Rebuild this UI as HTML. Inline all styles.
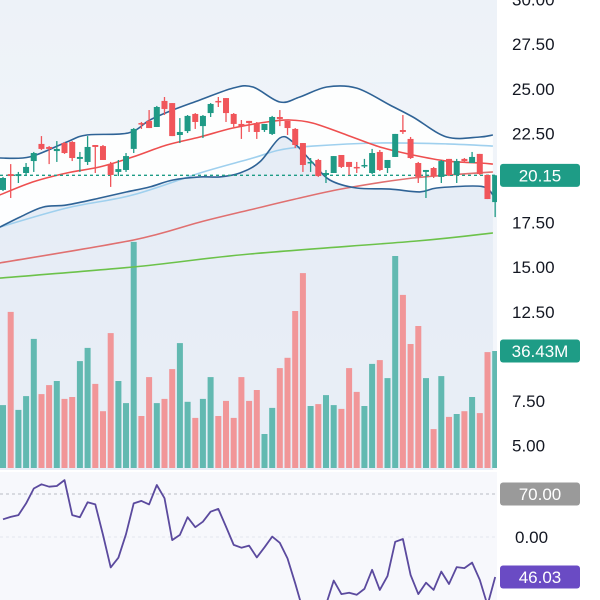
<!DOCTYPE html>
<html><head><meta charset="utf-8"><style>
html,body{margin:0;padding:0;background:#fff;}
svg{display:block;font-family:"Liberation Sans",sans-serif;}
</style></head><body>
<svg id="chart" width="600" height="600" viewBox="0 0 600 600" xmlns="http://www.w3.org/2000/svg">
<defs>
<linearGradient id="bg" x1="0" y1="0" x2="0" y2="1"><stop offset="0" stop-color="#edf2f8"/><stop offset="1" stop-color="#f6f8fc"/></linearGradient>
</defs>
<rect x="0" y="0" width="497" height="470" fill="url(#bg)"/>
<rect x="0" y="472" width="497" height="128" fill="#f7f8fc"/>
<g id="layer"></g>
</svg>
<script>
// ---- data ----
const opens  = [19.33,20.22,20.11,20.28,20.95,21.91,21.74,21.51,21.96,22.02,21.07,20.90,21.85,21.79,20.78,20.34,20.45,21.63,23.08,23.20,22.86,24.32,24.20,22.41,22.63,23.59,22.91,23.64,24.32,24.48,23.59,23.03,23.20,23.08,22.69,22.47,23.42,23.20,22.75,21.96,20.84,21.01,20.17,20.28,21.29,20.90,20.62,20.67,20.28,21.46,20.56,21.18,22.69,22.19,20.84,20.34,20.56,20.06,21.07,20.17,21.07,20.84,21.35,20.17,18.65];
const highs  = [20.06,20.78,20.34,20.84,21.46,22.35,21.79,22.07,22.02,22.07,21.46,22.35,21.85,21.85,20.90,21.01,21.40,22.80,23.14,23.81,24.04,24.54,24.20,23.36,23.53,23.64,23.53,24.20,24.54,24.48,23.64,23.25,23.20,23.14,23.03,23.48,23.81,23.20,22.80,21.96,21.12,21.07,20.45,21.23,21.29,20.90,20.90,21.07,21.63,21.57,21.01,22.47,23.53,22.30,20.90,20.45,20.62,21.01,21.07,21.07,21.12,21.46,21.35,20.17,20.15];
const lows   = [19.27,18.88,19.72,20.11,20.34,21.57,20.78,20.90,21.35,20.95,20.34,20.73,20.28,21.01,19.50,20.11,20.34,21.40,22.75,22.80,22.86,23.53,22.35,21.96,22.52,22.75,22.24,23.42,23.98,23.14,22.86,22.19,22.58,22.19,22.58,22.41,22.91,22.41,21.68,20.34,20.34,20.06,19.72,20.28,20.56,20.17,20.28,20.56,20.22,20.39,20.28,21.18,22.47,21.07,19.72,18.88,20.00,19.72,20.11,19.72,20.84,20.84,20.17,18.82,17.81];
const closes = [20.00,20.11,20.22,20.62,21.40,21.63,21.63,21.63,21.40,21.12,21.18,21.74,21.74,21.01,20.17,20.50,21.23,22.75,23.03,22.80,23.98,23.87,22.35,22.58,23.48,23.14,23.48,24.15,24.26,23.64,23.03,22.91,23.08,22.58,23.03,23.42,23.31,22.80,21.85,20.73,20.90,20.11,20.28,21.23,20.62,20.62,20.56,20.73,21.40,20.45,21.01,22.47,22.58,21.12,20.06,20.45,20.11,20.95,20.17,20.95,20.95,21.18,20.22,18.82,20.15];
const volumes = [19.6,48.6,18.1,22.4,40.2,23.0,25.8,27.1,21.5,22.1,33.3,37.4,26.2,17.7,42.0,27.1,20.2,70.4,16.2,28.3,20.2,21.5,30.8,38.9,20.6,15.6,21.5,28.3,16.2,20.9,15.6,28.3,20.9,24.3,10.6,18.7,31.1,34.3,48.9,60.7,19.3,19.9,22.7,19.6,18.4,31.1,23.7,19.3,32.4,33.6,28.0,66.0,53.9,38.6,44.2,28.0,12.1,28.6,15.9,16.8,17.7,22.1,17.1,36.1,36.43];
const rsi = [62.7,63.4,63.9,67.3,71.6,72.8,72.1,72.3,74.0,63.9,63.3,67.6,67.0,58.2,48.8,51.6,58.4,67.3,68.0,67.0,72.6,68.8,56.7,58.2,63.3,60.4,62.0,64.9,65.7,60.6,55.3,54.5,55.1,51.7,54.6,57.7,55.9,51.4,44.2,36.5,32.2,33.6,38.0,45.0,41.1,41.5,40.9,42.6,48.1,42.3,46.3,56.2,57.0,46.6,41.1,44.4,42.3,47.6,44.0,48.9,48.6,50.2,45.2,37.9,46.03];
const bbUpperIdx = [-0.4,3.5,8.3,10.9,16.3,19.1,22.1,25.6,29.9,32.5,36.0,38.6,42.1,46.0,50.3,53.3,57.7,62.0,63.7];
const bbUpper    = [21.12,21.18,22.02,22.41,22.52,23.25,23.81,24.37,25.04,25.10,24.26,24.54,25.10,25.04,24.09,23.42,22.30,22.30,22.41];
const bbLowerIdx = [-0.4,2.2,5.2,8.3,12.6,16.1,19.1,22.1,25.6,28.2,30.8,33.4,36.0,37.7,40.3,42.5,46.0,50.3,54.2,56.4,61.1,62.9,63.7];
const bbLower    = [17.25,17.81,18.37,18.49,18.88,19.22,19.50,19.89,20.06,20.06,20.28,20.90,22.24,22.02,20.84,19.89,19.44,19.38,19.22,19.44,19.55,19.44,19.05];
const sma20Idx = [-0.4,3.9,8.3,12.6,16.9,21.3,25.6,29.9,34.3,37.3,40.3,44.7,49.0,53.3,57.7,62.0,63.7];
const sma20    = [19.05,19.78,20.28,20.62,21.18,21.85,22.30,22.80,23.14,23.25,23.08,22.41,21.74,21.29,20.95,20.84,20.78];
const sma50Idx = [-0.4,8.3,16.9,25.6,32.5,36.0,40.3,49.0,57.7,63.7];
const sma50    = [17.25,18.32,19.05,20.28,21.12,21.57,21.79,21.96,21.91,21.79];
const sma100Idx = [-0.4,16.9,25.6,32.1,38.6,44.7,53.3,63.7];
const sma100    = [15.24,16.52,17.53,18.21,18.88,19.44,20.00,20.34];
const sma200Idx = [-0.4,16.9,32.1,53.8,63.7];
const sma200    = [14.39,15.01,15.74,16.47,16.92];
const priceTicks = [30,27.5,25,22.5,17.5,15,12.5,10,7.5,5];
const lastPrice = 20.15;
const lastVolume = 36.43;
const rsiLevels = [70];
const lastRsi = 46.03;

// ---- scales ----
const X = i => 3 + i * 7.69;
const YP = p => 178 - (p - 20) * 17.84;
const YV = v => 468 - v / 36.43 * 117;
const YR = v => 494 + (70 - v) * 3.463;

const NS = "http://www.w3.org/2000/svg";
const layer = document.getElementById('layer');
function mk(tag, attrs, parent) {
  const e = document.createElementNS(NS, tag);
  for (const k in attrs) e.setAttribute(k, attrs[k]);
  (parent || layer).appendChild(e);
  return e;
}
function xy(idx, vals, yf) { return idx.map((i, k) => [X(i), yf(vals[k])]); }
function smooth(p, move) {
  let d = (move ? 'M' : 'L') + p[0][0].toFixed(1) + ',' + p[0][1].toFixed(1);
  for (let k = 0; k < p.length - 1; k++) {
    const p0 = p[Math.max(0, k - 1)], p1 = p[k], p2 = p[k + 1], p3 = p[Math.min(p.length - 1, k + 2)];
    const c1x = p1[0] + (p2[0] - p0[0]) / 6, c1y = p1[1] + (p2[1] - p0[1]) / 6;
    const c2x = p2[0] - (p3[0] - p1[0]) / 6, c2y = p2[1] - (p3[1] - p1[1]) / 6;
    d += ' C' + c1x.toFixed(1) + ',' + c1y.toFixed(1) + ' ' + c2x.toFixed(1) + ',' + c2y.toFixed(1) + ' ' + p2[0].toFixed(1) + ',' + p2[1].toFixed(1);
  }
  return d;
}

// band fills
const up = xy(bbUpperIdx, bbUpper, YP), lo = xy(bbLowerIdx, bbLower, YP);
const bandFill = mk('path', {d: smooth(up, true) + ' ' + smooth(lo.slice().reverse(), false) + ' Z', fill: '#ffffff', 'fill-opacity': '0.85'});


const belowFill = mk('path', {d: smooth(lo, true) + ' L493,470 L0,470 Z', fill: '#dfe8f3', 'fill-opacity': '0.6'});



// volume bars
volumes.forEach((v, i) => {
  const upc = closes[i] >= opens[i];
  const r = mk('rect', {x: (X(i) - 3).toFixed(1), y: YV(v).toFixed(1), width: 6, height: (468 - YV(v)).toFixed(1), fill: upc ? '#62b9b1' : '#f19698'});
  
  
});

// MA lines
function line(idx, vals, color, w, name) {
  const l = mk('path', {d: smooth(xy(idx, vals, YP), true), fill: 'none', stroke: color, 'stroke-width': w, 'stroke-linejoin': 'round'});
  
  
}
line(sma200Idx, sma200, '#6cc24a', 1.6, 'sma-200-line');
line(sma100Idx, sma100, '#e07070', 1.6, 'sma-100-line');
line(sma50Idx, sma50, '#9fd0ee', 1.6, 'sma-50-line');
line(bbUpperIdx, bbUpper, '#2f6396', 1.6, 'bollinger-upper-line');
line(bbLowerIdx, bbLower, '#2f6396', 1.6, 'bollinger-lower-line');
line(sma20Idx, sma20, '#ee4f4f', 1.6, 'sma-20-line');

// last price line
const lp = mk('line', {x1: 0, x2: 497, y1: YP(lastPrice), y2: YP(lastPrice), stroke: '#1e9c86', 'stroke-width': 1.4, 'stroke-dasharray': '3,3'});



// candles
opens.forEach((o, i) => {
  const c = closes[i], upc = c >= o, col = upc ? '#1f9a86' : '#f0555a';
  const g = mk('g', {});
  
  
  mk('line', {x1: X(i), x2: X(i), y1: YP(highs[i]), y2: YP(lows[i]), stroke: col, 'stroke-width': 1.3}, g);
  const top = YP(Math.max(o, c)), bot = YP(Math.min(o, c));
  mk('rect', {x: X(i) - 3, y: top, width: 6, height: Math.max(1.5, bot - top), fill: col}, g);
});

// RSI
rsiLevels.forEach(v => {
  const l = mk('line', {x1: 0, x2: 497, y1: YR(v), y2: YR(v), stroke: '#b8bcc4', 'stroke-width': 1, 'stroke-dasharray': '3,3'});
  
  
});
const mid = mk('line', {x1: 0, x2: 497, y1: 537, y2: 537, stroke: '#e3e6ee', 'stroke-width': 1, 'stroke-dasharray': '3,3'});


const rl = mk('polyline', {points: rsi.map((v, i) => X(i).toFixed(1) + ',' + YR(v).toFixed(1)).join(' '), fill: 'none', stroke: '#5b4a9e', 'stroke-width': 1.8, 'stroke-linejoin': 'round'});



// axis area cover
const ax = mk('rect', {x: 497, y: 0, width: 103, height: 600, fill: '#ffffff'});


priceTicks.forEach(p => {
  const t = mk('text', {x: 512, y: YP(p) + 6, 'font-size': 17, fill: '#131722'});
  t.textContent = p.toFixed(2);
  
  
});
const z = mk('text', {x: 515, y: 543, 'font-size': 17, fill: '#131722'});
z.textContent = '0.00';



function tag(y, txt, col, name) {
  const g = mk('g', {});
  
  
  mk('rect', {x: 500, y: y - 11.5, width: 80, height: 23, rx: 3, fill: col}, g);
  const t = mk('text', {x: 540, y: y + 6, 'font-size': 17, fill: '#ffffff', 'text-anchor': 'middle'}, g);
  t.textContent = txt;
}
tag(YP(lastPrice), lastPrice.toFixed(2), '#1e9c86', 'last-price-tag');
tag(YV(lastVolume), lastVolume.toFixed(2) + 'M', '#1e9c86', 'last-volume-tag');
tag(YR(70), (70).toFixed(2), '#9a9a9a', 'rsi-70-tag');
tag(YR(lastRsi), lastRsi.toFixed(2), '#6a4bc4', 'last-rsi-tag');
</script>
</body></html>
